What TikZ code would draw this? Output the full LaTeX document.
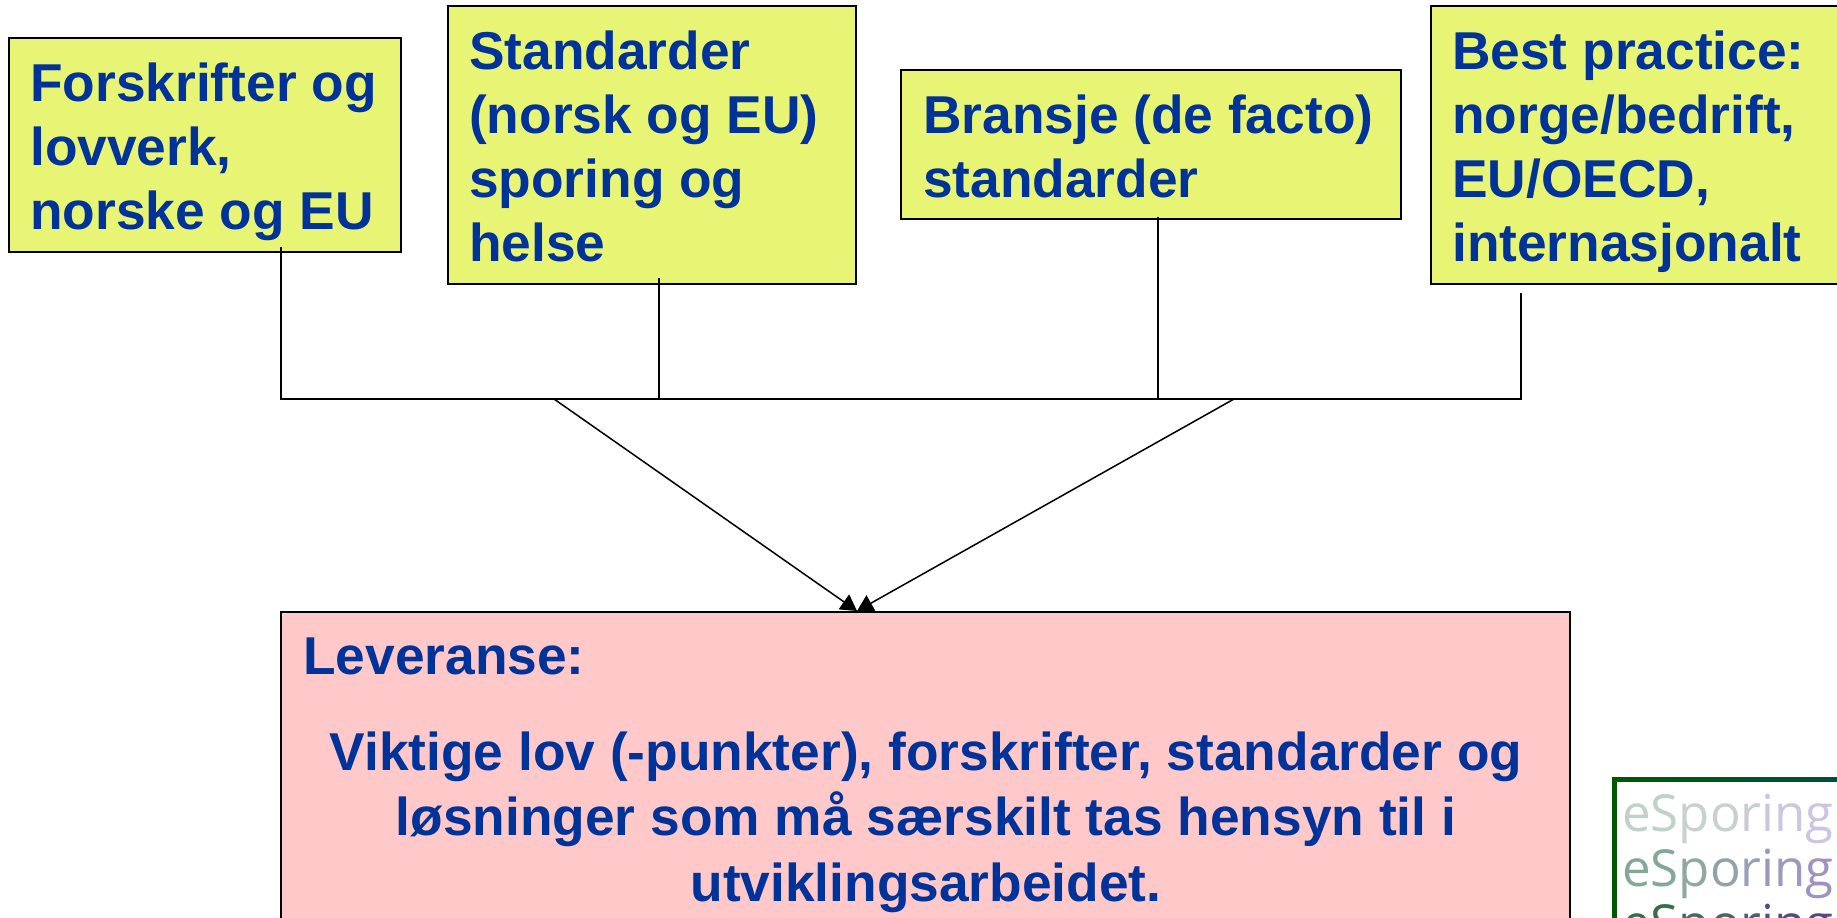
\documentclass[tikz,border=0pt]{standalone}
\usepackage{fontspec}
\setmainfont{Liberation Sans}
\newfontfamily\logofont{Open Sans}
\usetikzlibrary{arrows.meta}
\definecolor{txtblue}{HTML}{003399}
\definecolor{boxyellow}{HTML}{E8F474}
\definecolor{boxpink}{HTML}{FFC9C9}
\newcommand{\logoword}[8]{{\color[HTML]{#1}e}{\color[HTML]{#2}S}{\color[HTML]{#3}p}{\color[HTML]{#4}o}{\color[HTML]{#5}r}{\color[HTML]{#6}i}{\color[HTML]{#7}n}{\color[HTML]{#8}g}}
\tikzset{
  inbox/.style={draw=black,line width=2pt,rectangle,inner sep=0pt,anchor=north west},
  yellowbox/.style={inbox,fill=boxyellow},
  pinkbox/.style={inbox,fill=boxpink},
  boxtext/.style={anchor=base west,inner sep=0pt,text=txtblue,font=\fontsize{53.3}{64}\selectfont\bfseries},
  link/.style={draw=black,line width=1.5pt},
  arrowlink/.style={link,-{Triangle[length=16pt,width=18pt]}},
  logotext/.style={anchor=base west,inner sep=0pt,font=\logofont\fontsize{51}{51}\selectfont}
}
\begin{document}
\begin{tikzpicture}[x=1pt,y=-1pt]
\useasboundingbox (0,0) rectangle (1837,918);
\clip (0,0) rectangle (1837,918);
% boxes
\node[yellowbox,minimum width=392pt,minimum height=214pt] (b1) at (8,37) {};
\node[yellowbox,minimum width=408pt,minimum height=278pt] (b2) at (447,5) {};
\node[yellowbox,minimum width=500pt,minimum height=149pt] (b3) at (900,69) {};
\node[yellowbox,minimum width=440pt,minimum height=278pt] (b4) at (1430,5) {};
\node[pinkbox,minimum width=1289pt,minimum height=340pt] (lev) at (280,611) {};
% texts
\node[boxtext] (t1) at (30,101) {\parbox[t]{370pt}{\raggedright Forskrifter og\\lovverk,\\norske og EU}};
\node[boxtext] (t2) at (469,69) {\parbox[t]{385pt}{\raggedright Standarder\\(norsk og EU)\\sporing og\\helse}};
\node[boxtext] (t3) at (923,133) {\parbox[t]{475pt}{\raggedright Bransje (de facto)\\standarder}};
\node[boxtext] (t4) at (1452,69) {\parbox[t]{380pt}{\raggedright Best practice:\\norge/bedrift,\\EU/OECD,\\internasjonalt}};
\node[boxtext] (t5) at (303,674) {Leveranse:};
\node[boxtext,anchor=base] (t6) at (926,770) {Viktige lov (-punkter), forskrifter, standarder og};
\node[boxtext,anchor=base] (t7) at (926,835) {løsninger som må særskilt tas hensyn til i};
\node[boxtext,anchor=base] (t8) at (926,901) {utviklingsarbeidet.};
% connectors
\coordinate (s1) at (281,247);
\coordinate (s2) at (659,278);
\coordinate (s3) at (1158,217);
\coordinate (s4) at (1521,293);
\coordinate (bus) at (0,399);
\coordinate (d1) at (554,399);
\coordinate (d2) at (1234,399);
\coordinate (tip) at (857,611);
\draw[link,line join=miter] (s1) -- (s1|-bus) -- (s4|-bus) -- (s4);
\draw[link] (s2) -- (s2|-bus);
\draw[link] (s3) -- (s3|-bus);
\draw[arrowlink] (d1) -- (tip);
\draw[arrowlink] (d2) -- (tip);
% logo
\shade[left color=black!30!green!50!black,right color=teal!60!black] (1612,777) rectangle (1900,930);
\fill[white] (1617,782) rectangle (1900,930);
\node[logotext] (w1) at (1622,831) {\logoword{C0D2C8}{C0D2C8}{C6D2CE}{C8D0D0}{C8CCD6}{C8C8DA}{CAC8DE}{CCC4E0}};
\node[logotext] (w2) at (1622,886) {\logoword{84A898}{84A898}{90A8A0}{90A4A8}{98A0B8}{9898B8}{9C98C0}{A090C4}};
\node[logotext] (w3) at (1622,941) {\logoword{3A6A50}{3A6A50}{466A60}{4A6468}{4C5C78}{4C5080}{4E4C84}{544888}};
\end{tikzpicture}
\end{document}
